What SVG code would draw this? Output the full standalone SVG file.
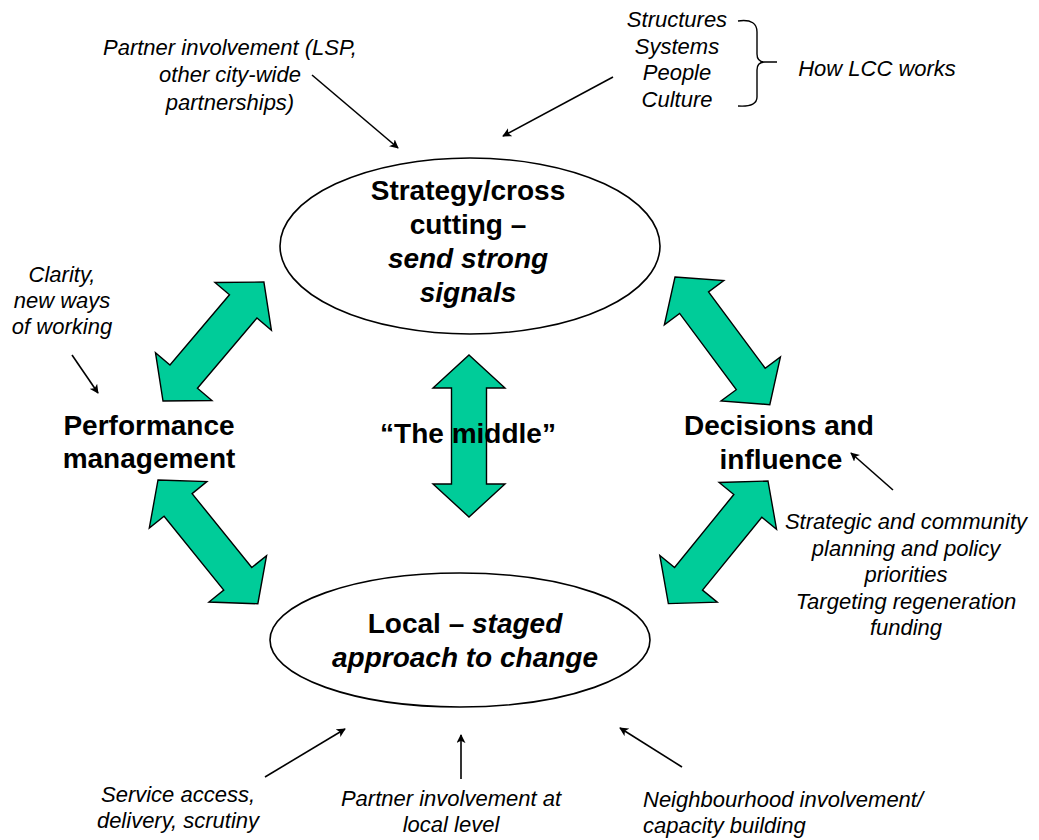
<svg xmlns="http://www.w3.org/2000/svg" width="1039" height="840" viewBox="0 0 1039 840">
  <defs>
    <marker id="head" viewBox="0 0 10 10" refX="9" refY="5" markerWidth="9" markerHeight="9" markerUnits="userSpaceOnUse" orient="auto">
      <path d="M0,0 L10,5 L0,10 L2.5,5 Z" fill="#000"/>
    </marker>
    <style>
      .node { fill: #fff; stroke: #000; stroke-width: 1.6; }
      .big { font-family: "Liberation Sans", Arial, sans-serif; font-size: 28px; font-weight: bold; fill: #000; text-anchor: middle; }
      .note { font-family: "Liberation Sans", Arial, sans-serif; font-size: 22px; font-style: italic; fill: #000; text-anchor: middle; }
      .it { font-style: italic; }
      .dbl { fill: #00CC99; stroke: #000; stroke-width: 1.4; stroke-linejoin: miter; }
      .pointer { stroke: #000; stroke-width: 1.6; fill: none; marker-end: url(#head); }
      .brace { stroke: #000; stroke-width: 1.4; fill: none; }
    </style>
  </defs>

  <rect width="1039" height="840" fill="#fff"/>

  <!-- connectors: two-way block arrows and thin pointer arrows -->
  <g id="connectors">
    <polygon class="dbl" transform="translate(163,401) rotate(-49.7)" points="0,0 32,-37 32,-18 124,-18 124,-37 156,0 124,37 124,18 32,18 32,37"/>
    <polygon class="dbl" transform="translate(158,480) rotate(51.1)" points="0,0 32,-37 32,-18 127,-18 127,-37 159,0 127,37 127,18 32,18 32,37"/>
    <polygon class="dbl" transform="translate(675,277) rotate(53.4)" points="0,0 32,-37 32,-18 127,-18 127,-37 159,0 127,37 127,18 32,18 32,37"/>
    <polygon class="dbl" transform="translate(768,481) rotate(129.1)" points="0,0 32,-37 32,-18 126,-18 126,-37 158,0 126,37 126,18 32,18 32,37"/>
    <polygon class="dbl" transform="translate(469,355) rotate(90)" points="0,0 33,-36 33,-17.5 129,-17.5 129,-36 162,0 129,36 129,17.5 33,17.5 33,36"/>

    <line class="pointer" x1="312" y1="75" x2="398" y2="148"/>
    <line class="pointer" x1="613" y1="77" x2="503" y2="136"/>
    <line class="pointer" x1="72" y1="355" x2="98" y2="393"/>
    <line class="pointer" x1="893" y1="490" x2="851" y2="453"/>
    <line class="pointer" x1="265" y1="777" x2="345" y2="729"/>
    <line class="pointer" x1="461" y1="779" x2="461" y2="735"/>
    <line class="pointer" x1="682" y1="767" x2="620" y2="728"/>

    <path class="brace" d="M738,21 C752,19 757,24 757,32 L757,54 C757,59 760,62 765,62 L777,62 M765,62 C760,62 757,65 757,70 L757,97 C757,103 752,107 738,106"/>
  </g>

  <g id="strategy">
    <ellipse class="node" cx="470" cy="246" rx="190" ry="88"/>
    <text class="big" x="468" y="200">Strategy/cross</text>
    <text class="big" x="468" y="234">cutting –</text>
    <text class="big it" x="468" y="268">send strong</text>
    <text class="big it" x="468" y="302">signals</text>
  </g>

  <g id="local">
    <ellipse class="node" cx="460" cy="640" rx="190" ry="67"/>
    <text class="big" x="465" y="633">Local – <tspan class="it">staged</tspan></text>
    <text class="big it" x="465" y="667">approach to change</text>
  </g>

  <g id="performance">
    <text class="big" x="149" y="435">Performance</text>
    <text class="big" x="149" y="468">management</text>
  </g>

  <g id="decisions">
    <text class="big" x="779" y="435">Decisions and</text>
    <text class="big" x="781" y="469">influence</text>
  </g>

  <g id="middle">
    <text class="big" x="468" y="443">“The middle”</text>
  </g>

  <g id="partner-citywide">
    <text class="note" x="230" y="55">Partner involvement (LSP,</text>
    <text class="note" x="230" y="82">other city-wide</text>
    <text class="note" x="230" y="110">partnerships)</text>
  </g>

  <g id="lcc-elements">
    <text class="note" x="677" y="27">Structures</text>
    <text class="note" x="677" y="54">Systems</text>
    <text class="note" x="677" y="80">People</text>
    <text class="note" x="677" y="107">Culture</text>
  </g>

  <g id="how-lcc-works">
    <text class="note" x="877" y="76">How LCC works</text>
  </g>

  <g id="clarity">
    <text class="note" x="62" y="282">Clarity,</text>
    <text class="note" x="62" y="308">new ways</text>
    <text class="note" x="62" y="334">of working</text>
  </g>

  <g id="strategic-planning">
    <text class="note" x="906" y="529">Strategic and community</text>
    <text class="note" x="906" y="556">planning and policy</text>
    <text class="note" x="906" y="582">priorities</text>
    <text class="note" x="906" y="609">Targeting regeneration</text>
    <text class="note" x="906" y="635">funding</text>
  </g>

  <g id="service-access">
    <text class="note" x="178" y="802">Service access,</text>
    <text class="note" x="178" y="828">delivery, scrutiny</text>
  </g>

  <g id="partner-local">
    <text class="note" x="451" y="806">Partner involvement at</text>
    <text class="note" x="451" y="832">local level</text>
  </g>

  <g id="neighbourhood">
    <text class="note" x="643" y="807" text-anchor="start" style="text-anchor:start">Neighbourhood involvement/</text>
    <text class="note" x="643" y="833" style="text-anchor:start">capacity building</text>
  </g>
</svg>
